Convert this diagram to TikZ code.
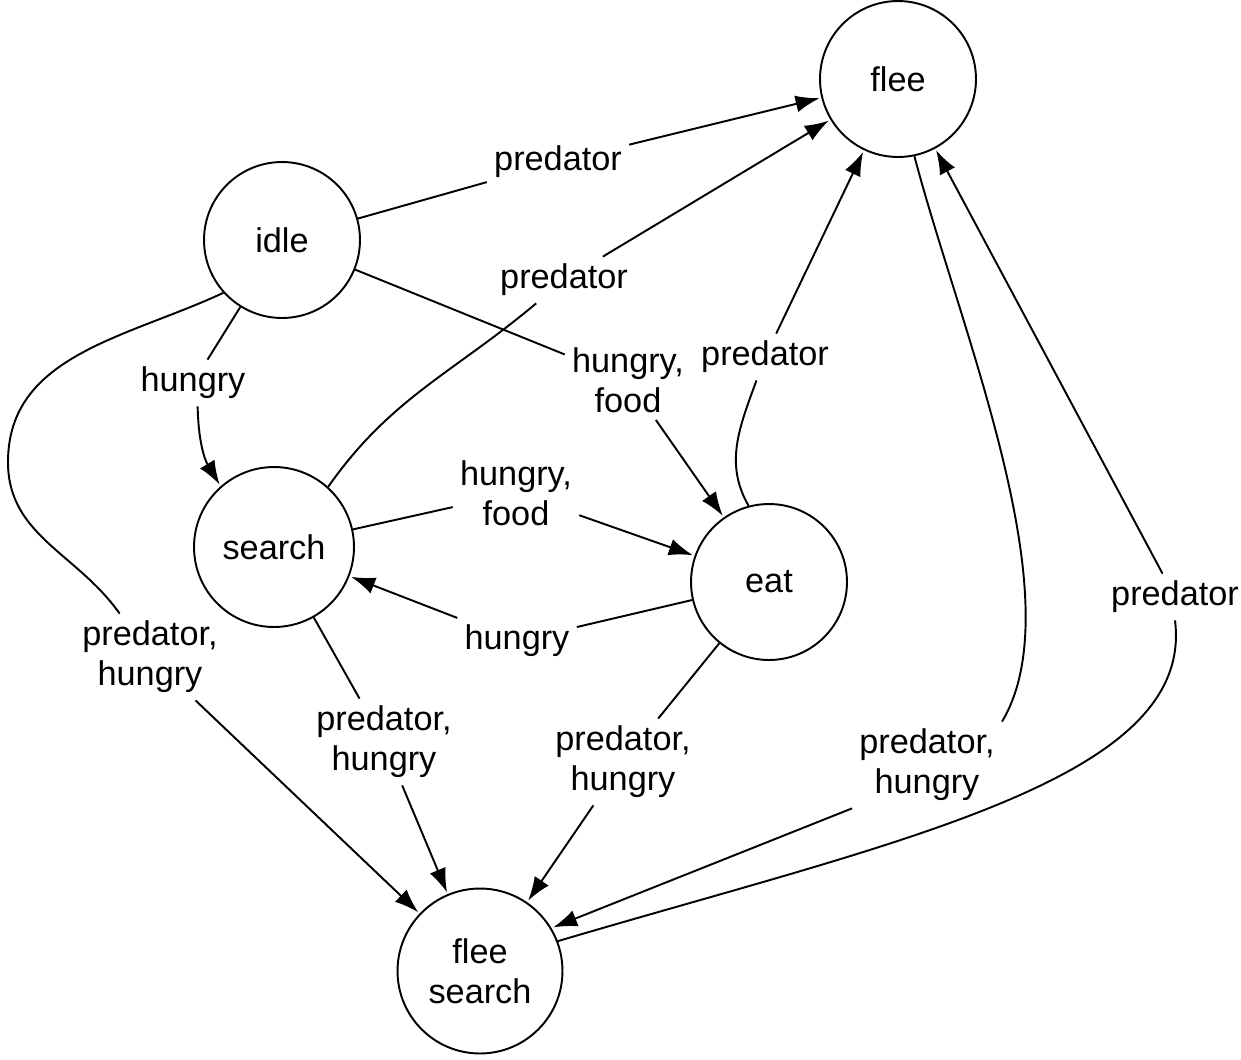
\documentclass[tikz,border=0pt]{standalone}
\usepackage{fontspec}
\setmainfont{Liberation Sans}
\usetikzlibrary{arrows.meta}

\tikzset{
  state/.style={circle,draw,line width=1.1pt,minimum size=3.12cm,inner sep=0pt,align=center},
  lab/.style={align=center,inner sep=4pt},
  tr/.style={line width=1.1pt,-{Latex[length=0.48cm,width=0.34cm]},shorten >=1pt}
}

\begin{document}
\begin{tikzpicture}[x=0.02cm,y=-0.02cm,font=\fontsize{19.5}{22.8}\selectfont]
\useasboundingbox (0,0) rectangle (1241,1059);
% states
\node[state] (flee) at (898,79) {flee};
\node[state] (idle) at (282,240) {idle};
\node[state,minimum size=3.2cm] (srch) at (274,547) {search};
\node[state] (eat) at (769,582) {eat};
\node[state,minimum size=3.3cm] (fsrch) at (480,971) {flee\\search};

% labels
\node[lab] (p1) at (558,162) {predator};
\node[lab] (p2) at (564,280) {predator};
\node[lab] (p3) at (628,380) {hungry,\\food};
\node[lab] (p4) at (765,357) {predator};
\node[lab] (p5) at (193,383) {hungry};
\node[lab] (p6) at (150,657) {predator,\\hungry};
\node[lab] (p7) at (516,493) {hungry,\\food};
\node[lab] (p8) at (517,641) {hungry};
\node[lab] (p9) at (384,742) {predator,\\hungry};
\node[lab] (p10) at (623,762) {predator,\\hungry};
\node[lab] (p11) at (927,765) {predator,\\hungry};
\node[lab] (p12) at (1175,597) {predator};

% transitions
\draw[tr] (idle) -- (p1) -- (flee);
\draw[tr] (srch.48) to[out=55,in=220] (p2) -- (flee);
\draw[tr] (idle) -- (p3) -- (eat);
\draw[tr] (eat.105) to[out=120,in=250] (p4) -- (flee);
\draw[tr] (idle) -- (p5) to[bend right=15] (srch);
\coordinate (b6) at (8,462);
\draw[tr] (idle.222) to[out=205,in=90] (b6) to[out=270,in=125] (p6) -- (fsrch);
\draw[tr] (srch) -- (p7) -- (eat);
\draw[tr] (eat) -- (p8) -- (srch);
\draw[tr] (srch) -- (p9) -- (fsrch);
\draw[tr] (eat) -- (p10) -- (fsrch);
\draw[tr] (flee.282) .. controls (960,330) and (1075,600) .. (p11.north east) (p11.south west) -- (fsrch.31);
\draw[tr] (fsrch.21) .. controls (900,840) and (1195,780) .. (p12.south) (p12) -- (flee);
\end{tikzpicture}
\end{document}
